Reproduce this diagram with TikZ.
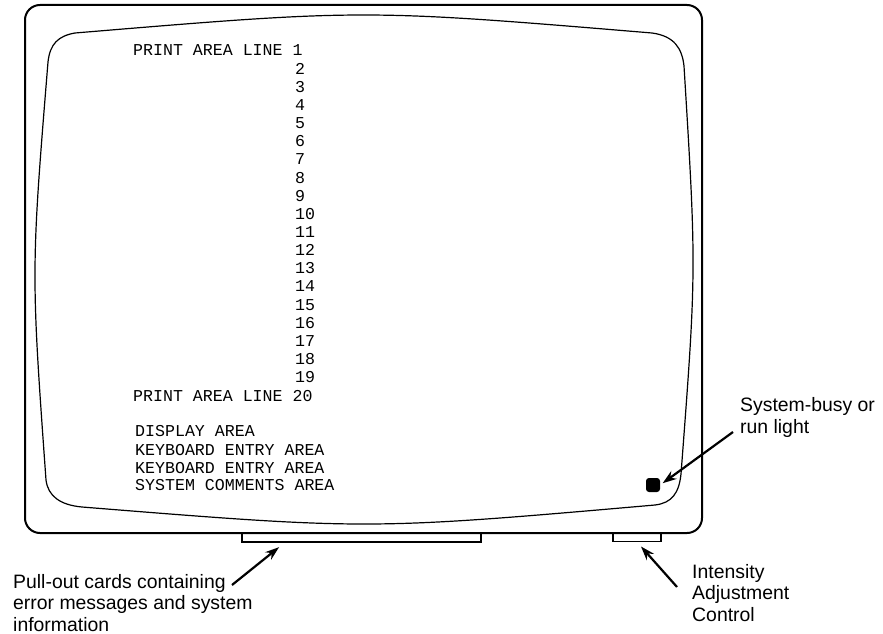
\documentclass[tikz,border=0pt]{standalone}
\usepackage{fontspec}
\setmainfont{Liberation Sans}
\newfontfamily\scrfont{Liberation Mono}
\usetikzlibrary{arrows.meta,calc}
\begin{document}
\begin{tikzpicture}[x=1pt,y=-1pt,
  frame/.style={line width=2pt, rounded corners=15pt},
  screenline/.style={line width=1.2pt},
  scr/.style={font=\scrfont\fontsize{16.6}{18.15}\selectfont, inner sep=0pt, anchor=base west},
  lbl/.style={font=\fontsize{19.4}{21.5}\selectfont, inner sep=0pt, align=left, anchor=base west},
  part/.style={draw, line width=1.5pt, inner sep=0pt},
  pointer/.style={line width=2.2pt, -{Stealth[length=14pt,width=9.5pt]}}]
\useasboundingbox (0,0) rectangle (883,634);
% cabinet
\draw[frame] (25,5) rectangle (702,533);
% screen
\draw[screenline] (75,33) .. controls (363.5,9) .. (652,33)
  .. controls (674,36) and (682,48) .. (684,66)
  .. controls (696.5,270) .. (681,474)
  .. controls (679,493) and (672,503) .. (655,505)
  .. controls (368.5,530) .. (82,507)
  .. controls (60,505) and (48,496) .. (46,480)
  .. controls (31,271) .. (48,62)
  .. controls (50,44) and (58,36) .. (75,33) -- cycle;
% parts below cabinet
\node[part, minimum width=239pt, minimum height=9pt] (card) at (361.5,537.5) {};
\node[part, minimum width=48pt, minimum height=8.5pt] (knob) at (637,537) {};
\node[fill=black, rounded corners=3pt, minimum width=14pt, minimum height=14pt, inner sep=0pt] (light) at (653,485) {};
% screen text
\node[scr] (p1) at (133,56) {PRINT AREA LINE 1};
\foreach \n in {2,...,19}{
  \node[scr] (n\n) at (295,{56+18.15*(\n-1)}) {\n};
}
\node[scr] (p20) at (133,401) {PRINT AREA LINE 20};
\node[scr] (disp) at (135,436.7) {DISPLAY AREA};
\node[scr] (kb1) at (135,455) {KEYBOARD ENTRY AREA};
\node[scr] (kb2) at (135,473.3) {KEYBOARD ENTRY AREA};
\node[scr] (sys) at (135,490.7) {SYSTEM COMMENTS AREA};
% labels (anchor = baseline of last line)
\node[lbl] (busy) at (740,433) {System-busy or\\run light};
\node[lbl] (inten) at (692,621) {Intensity\\Adjustment\\Control};
\node[lbl] (pull) at (13,631) {Pull-out cards containing\\error messages and system\\information};
% pointers
\coordinate (busyfrom) at (733,432);
\coordinate (intfrom) at (677,587);
\coordinate (pullfrom) at (232,585);
\draw[pointer, shorten >=3pt] (busyfrom) -- (light.east);
\draw[pointer, shorten >=6pt] (intfrom) -- (knob.south);
\draw[pointer, shorten >=7pt] (pullfrom) -- ($(card.south west)!0.18!(card.south east)$);
\end{tikzpicture}
\end{document}
